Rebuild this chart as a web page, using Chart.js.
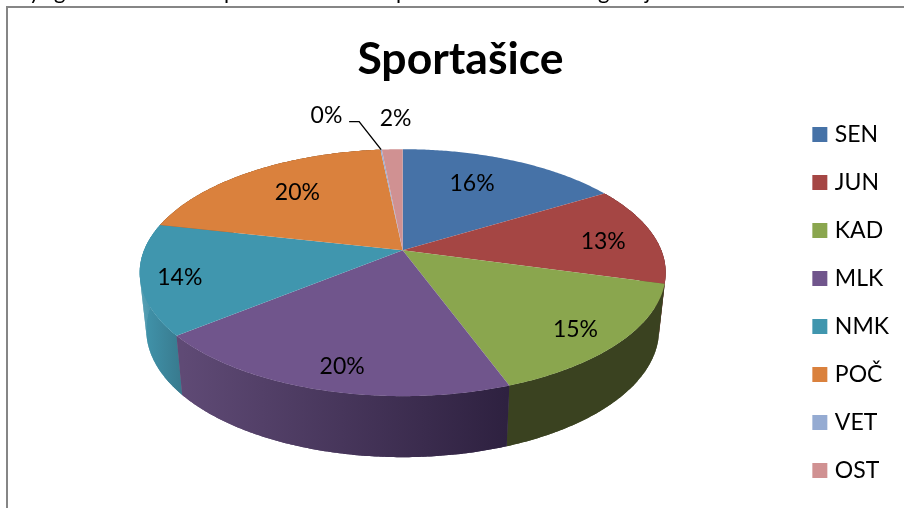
<!DOCTYPE html>
<html><head><meta charset="utf-8">
<style>html,body{margin:0;padding:0;background:#fff}canvas{display:block}</style>
<script src="https://cdn.jsdelivr.net/npm/chart.js@4/dist/chart.umd.min.js"></script>
</head><body><canvas id="c" width="904" height="508"></canvas>
<script>
const categories = ['SEN','JUN','KAD','MLK','NMK','POČ','VET','OST'];
const values = [16.3,13.05,15.15,19.65,14.45,19.9,0.1,1.52];
const colors = ['#4672A7','#A54644','#8AA64E','#70558C','#4096AE','#DA813D','#95ABD2','#D09192'];
const wallLeft = ['#2f4d72','#6f2f2e','#3a4220','#5f4a75','#4092a9','#94582a','#65748f','#8d6263'];
const wallRight = ['#2f4d72','#6f2f2e','#3a4220','#2e2140','#38798d','#94582a','#65748f','#8d6263'];
const labelRadius = [0.685,0.79,0.84,0.85,0.856,0.695,1.467,1.384];
const labelAngleNudge = [-3.5,2.4,2.0,-1.8,-1.45,1.6,-9.0,1.3];
const topFragments = [['y',29],['g',54],['p',224],['p',396],['g',598],['j',645]];

const FONT = 'Lato, Carlito, sans-serif';
const P = 0.182, XS = 258.6, YS = 119.4, SHRINK = 0.975;
const SHIFT_X = -4, SHIFT_Y = -46.5;
function project(el, ang, r){
  const u = r*Math.cos(ang), v = r*Math.sin(ang), k = 1/(1-P*v);
  return {x: el.x + SHIFT_X + XS*u*k, y: el.y + SHIFT_Y + YS*v*k, v};
}
function bottom(el, p){
  const cx = el.x + SHIFT_X;
  return {x: cx+(p.x-cx)*SHRINK, y: p.y+56+5*p.v};
}
function rimPoints(el){
  const pts=[], n=Math.max(2,Math.ceil((el.endAngle-el.startAngle)/0.01));
  for(let i=0;i<=n;i++) pts.push(project(el, el.startAngle+(el.endAngle-el.startAngle)*i/n, 1));
  return pts;
}
const pie3d = {
  id:'pie3d',
  beforeDraw(chart){
    const c=chart.ctx; c.save();
    c.fillStyle='#868686';
    c.fillRect(6,6,898,2); c.fillRect(6,6,2,502);
    c.fillStyle='#000'; c.font='22px '+FONT; c.textAlign='left'; c.textBaseline='alphabetic';
    topFragments.forEach(f=>c.fillText(f[0],f[1],-1));
    c.restore();
  },
  beforeDatasetDraw(chart){
    const c=chart.ctx, arcs=chart.getDatasetMeta(0).data;
    const order=arcs.map((a,i)=>i).sort((a,b)=>
      Math.sin((arcs[a].startAngle+arcs[a].endAngle)/2)-Math.sin((arcs[b].startAngle+arcs[b].endAngle)/2));
    c.save();
    order.forEach(i=>{
      const el=arcs[i], pts=rimPoints(el);
      if(!pts.some(p=>p.v>-0.3)) return;
      const bot=pts.map(p=>bottom(el,p));
      const xs=bot.map(p=>p.x), g=c.createLinearGradient(Math.min(...xs),0,Math.max(...xs),0);
      g.addColorStop(0,wallLeft[i]); g.addColorStop(1,wallRight[i]);
      c.fillStyle=g;
      c.beginPath();
      pts.forEach((p,j)=>j?c.lineTo(p.x,p.y):c.moveTo(p.x,p.y));
      bot.slice().reverse().forEach(p=>c.lineTo(p.x,p.y));
      c.closePath(); c.fill();
      for(let j=0;j<pts.length-1;j++){
        c.beginPath();
        c.moveTo(pts[j].x,pts[j].y); c.lineTo(pts[j+1].x,pts[j+1].y);
        c.lineTo(bot[j+1].x,bot[j+1].y); c.lineTo(bot[j].x,bot[j].y);
        c.closePath(); c.fill();
      }
    });
    arcs.forEach((el,i)=>{
      c.fillStyle=colors[i]; c.beginPath(); c.moveTo(el.x+SHIFT_X,el.y+SHIFT_Y);
      rimPoints(el).forEach(p=>c.lineTo(p.x,p.y));
      c.closePath(); c.fill();
    });
    c.restore();
    return false;
  },
  afterDatasetsDraw(chart){
    const c=chart.ctx, arcs=chart.getDatasetMeta(0).data;
    const total=values.reduce((a,b)=>a+b,0);
    c.save();
    const vet=arcs[6], rim=project(vet,(vet.startAngle+vet.endAngle)/2,1);
    c.strokeStyle='#000'; c.lineWidth=1.4; c.beginPath();
    c.moveTo(rim.x,rim.y); c.lineTo(rim.x-22,rim.y-28); c.lineTo(rim.x-32,rim.y-28); c.stroke();
    c.fillStyle='#000'; c.font='23px '+FONT; c.textAlign='center'; c.textBaseline='middle';
    arcs.forEach((el,i)=>{
      const a=(el.startAngle+el.endAngle)/2+labelAngleNudge[i]*Math.PI/180;
      const p=project(el,a,labelRadius[i]);
      c.fillText(Math.round(values[i]/total*100)+'%',p.x,p.y);
    });
    c.restore();
  }
};
new Chart(document.getElementById('c'),{
  type:'pie',
  data:{labels:categories,datasets:[{data:values,backgroundColor:colors,borderWidth:0}]},
  options:{
    responsive:false,animation:false,
    layout:{padding:{left:22,top:33,bottom:1,right:5}},
    plugins:{
      title:{display:true,text:'Sportašice',color:'#000',font:{family:FONT,size:44.5,weight:'bold'},padding:0},
      tooltip:{enabled:false},
      legend:{position:'right',align:'end',labels:{color:'#000',font:{family:FONT,size:23},usePointStyle:true,pointStyle:'rect',boxWidth:7,boxHeight:15,padding:25}}
    }
  },
  plugins:[pie3d]
});
</script></body></html>
